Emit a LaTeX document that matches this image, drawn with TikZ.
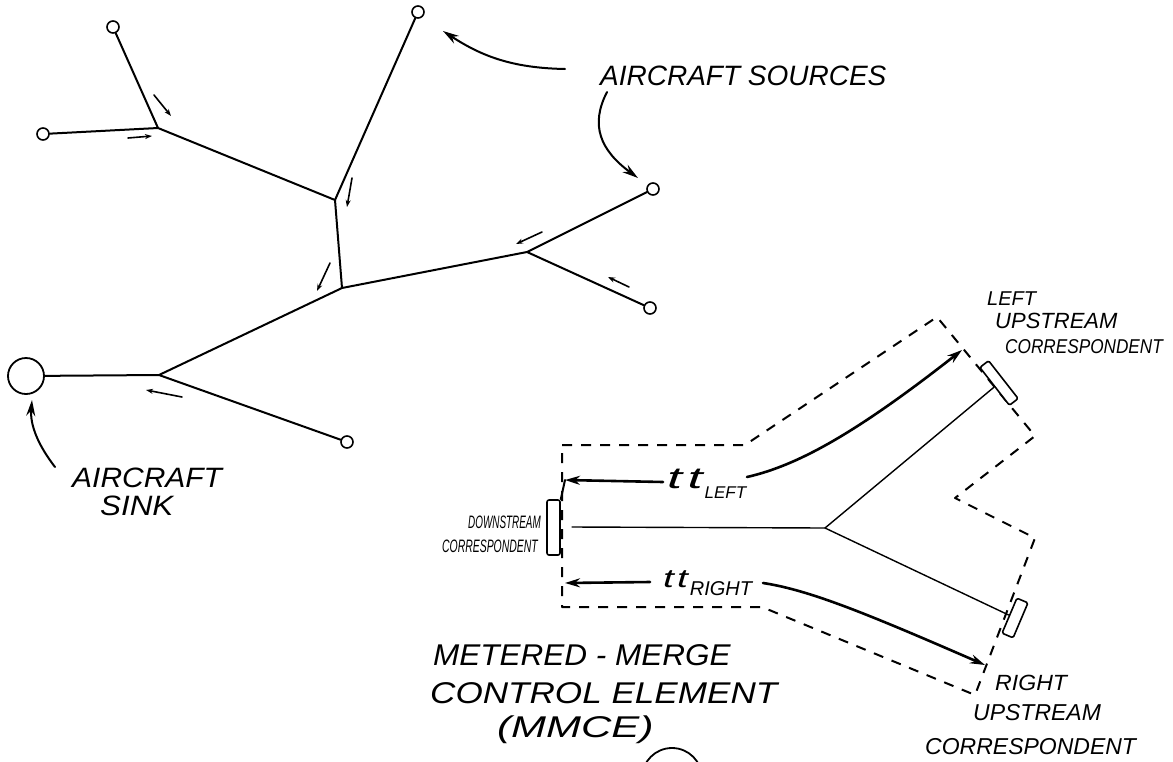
\documentclass[tikz,border=0pt]{standalone}
\usepackage{fontspec}
\setmainfont{Liberation Sans}
\usetikzlibrary{arrows.meta}
\newcommand{\handtxt}[3]{{\fontsize{#1}{#1}\selectfont\itshape\scalebox{#2}[1]{#3}}}
\begin{document}
\begin{tikzpicture}[x=1pt,y=-1pt,line join=round,line cap=round,
  tree/.style={line width=2pt},
  src/.style={circle,draw,line width=1.6pt,fill=white,inner sep=0pt,minimum size=12pt},
  flow/.style={line width=1.6pt,-{Stealth[length=7pt,width=5pt]}},
  note/.style={line width=2pt,-{Stealth[length=16pt,width=9pt]}},
  ttarrow/.style={line width=2.6pt,-{Stealth[length=15pt,width=9pt]}},
  thinline/.style={line width=1.4pt},
  corr/.style={draw,line width=1.6pt,inner sep=0pt,rounded corners=1.5pt},
  bound/.style={line width=2pt,dash pattern=on 10pt off 9pt,line cap=butt},
  lbl/.style={inner sep=0pt,anchor=base west},
  lble/.style={inner sep=0pt,anchor=base east}]
\useasboundingbox (0,0) rectangle (1173,761);
\clip (0,0) rectangle (1173,761);

% ---------- tree ----------
\node[src] (s1) at (113,27) {};
\node[src] (s2) at (43,134) {};
\node[src] (s3) at (418,12) {};
\node[src] (s4) at (653,189) {};
\node[src] (s5) at (650,308) {};
\node[src] (s6) at (347,442) {};
\node[circle,draw,line width=1.8pt,minimum size=36pt,inner sep=0pt] (sink) at (26,376) {};
\coordinate (j1) at (158,128);
\coordinate (j2) at (335,200);
\coordinate (j3) at (342,288);
\coordinate (j4) at (527,252);
\coordinate (j5) at (159,375);

\draw[tree] (s1) -- (j1);
\draw[tree] (s2) -- (j1) -- (j2);
\draw[tree] (s3) -- (j2) -- (j3) -- (j4) -- (s4);
\draw[tree] (j4) -- (s5);
\draw[tree] (j3) -- (j5) -- (s6);
\draw[tree] (sink) -- (j5);

% flow arrows
\draw[flow] (154,95) -- (171,116);
\draw[flow] (128,138) -- (152,136);
\draw[flow] (352,178) -- (347,207);
\draw[flow] (330,263) -- (317,291);
\draw[flow] (542,232) -- (516,244);
\draw[flow] (629,287) -- (608,277);
\draw[flow] (182,397) -- (146,390);

% annotations
\node[lbl] (srclbl) at (600,85) {\handtxt{28}{1}{AIRCRAFT SOURCES}};
\coordinate (a1s) at (565,69);
\coordinate (a1e) at (443,31);
\draw[note] (a1s) .. controls (510,68) and (480,55) .. (a1e);
\coordinate (a2s) at (607,92);
\coordinate (a2e) at (638,178);
\draw[note] (a2s) .. controls (590,125) and (600,150) .. (a2e);

\node[lbl] (sinklbl1) at (72,487) {\handtxt{28}{1.07}{AIRCRAFT}};
\node[lbl] (sinklbl2) at (100,515) {\handtxt{28}{1.12}{SINK}};
\coordinate (a3s) at (55,467);
\coordinate (a3e) at (32,400);
\draw[note] (a3s) .. controls (38,445) and (30,425) .. (a3e);

% ---------- MMCE ----------
\draw[bound] (562,445) -- (745,445) -- (937,317) -- (1035,436) -- (955,498)
  -- (1035,538) -- (975,695) -- (762,607) -- (562,607) -- cycle;

\node[corr,fill=white,minimum width=13pt,minimum height=55pt,rounded corners=2pt] (dsc) at (553.5,527.5) {};
\node[corr,fill=white,minimum width=48pt,minimum height=11pt,rotate=-52] (luc) at (999,383) {};
\node[corr,fill=white,minimum width=38pt,minimum height=12pt,rotate=67] (ruc) at (1015,618) {};

\coordinate (ms) at (572,527);
\coordinate (mj) at (825,528);
\draw[thinline] (ms) -- (mj) -- (luc);
\draw[thinline] (mj) -- (ruc);

% travel-time arrows
\node[lbl] (ttl) at (667,488) {\handtxt{30}{1.8}{t\kern3pt t}\kern2pt\raisebox{-10pt}{\handtxt{17}{1}{LEFT}}};
\node[lbl] (ttr) at (663,587) {\handtxt{26}{1.5}{t\kern2pt t}\kern2pt\raisebox{-8pt}{\handtxt{20}{1}{RIGHT}}};

\coordinate (tlS) at (663,482);
\coordinate (tlE) at (565,480);
\draw[ttarrow] (tlS) -- (tlE);
\draw[line width=2pt] (tlE) -- (dsc.north east);
\coordinate (tlcS) at (747,477);
\coordinate (tlcE) at (962,350);
\draw[ttarrow] (tlcS) .. controls (800,465) and (860,430) .. (tlcE);

\coordinate (trS) at (650,582);
\coordinate (trE) at (565,583);
\draw[ttarrow] (trS) -- (trE);
\coordinate (trcS) at (763,583);
\coordinate (trcE) at (985,665);
\draw[ttarrow] (trcS) .. controls (810,590) and (870,615) .. (trcE);

% labels
\node[lble] (dsl1) at (541,528) {\handtxt{18}{0.55}{DOWNSTREAM}};
\node[lble] (dsl2) at (538,552) {\handtxt{18}{0.58}{CORRESPONDENT}};

\node[lbl] (lul1) at (987,305) {\handtxt{20}{1}{LEFT}};
\node[lbl] (lul2) at (995,328) {\handtxt{22}{1}{UPSTREAM}};
\node[lbl] (lul3) at (1005,353) {\handtxt{20}{0.86}{CORRESPONDENT}};

\node[lbl] (rul1) at (995,690) {\handtxt{22}{1.05}{RIGHT}};
\node[lbl] (rul2) at (973,720) {\handtxt{23}{1}{UPSTREAM}};
\node[lbl] (rul3) at (925,754) {\handtxt{23}{1}{CORRESPONDENT}};

\node[lbl] (mm1) at (433,665) {\handtxt{30}{1.05}{METERED - MERGE}};
\node[lbl] (mm2) at (430,703) {\handtxt{30}{1.17}{CONTROL ELEMENT}};
\node[lbl] (mm3) at (497,737) {\handtxt{30}{1.4}{(MMCE)}};

\node[circle,draw,line width=1.8pt,minimum size=60pt,inner sep=0pt] (bc) at (672,778) {};
\end{tikzpicture}
\end{document}
